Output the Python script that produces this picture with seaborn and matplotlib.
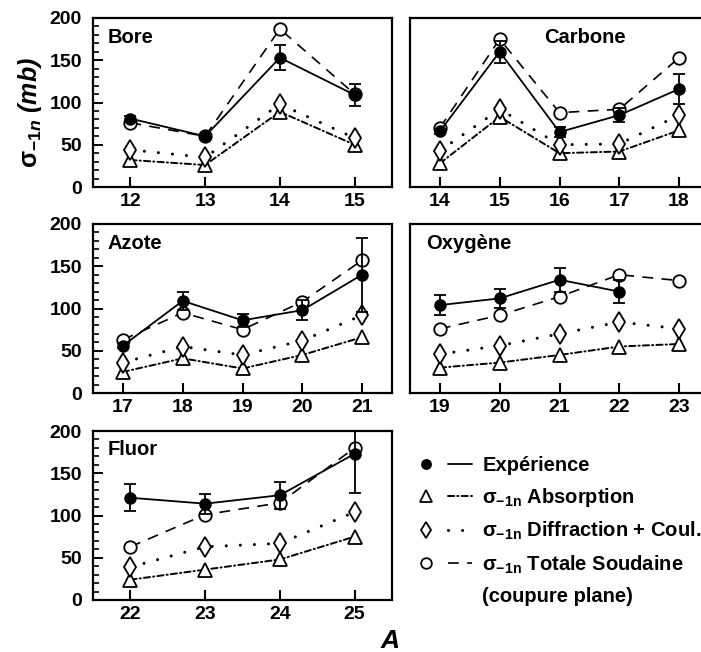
import matplotlib
matplotlib.use("Agg")
import matplotlib.pyplot as plt
from matplotlib.lines import Line2D
from matplotlib.legend_handler import HandlerTuple
from matplotlib.ticker import MultipleLocator
import seaborn as sns

# --- data (sigma_-1n in mb) ---
names = ["Bore", "Carbone", "Azote", "Oxygène", "Fluor"]

A_bore = [12, 13, 14, 15]
exp_bore = [81, 60, 153, 109]
err_bore = [3, 3, 15, 13]
tot_bore = [76, 60, 187, 110]
diff_bore = [44, 35, 98, 58]
abs_bore = [32, 26, 89, 50]

A_carb = [14, 15, 16, 17, 18]
exp_carb = [66, 160, 65, 85, 116]
err_carb = [3, 13, 6, 8, 18]
tot_carb = [70, 175, 88, 92, 153]
diff_carb = [43, 92, 50, 51, 85]
abs_carb = [28, 83, 40, 42, 67]

A_azote = [17, 18, 19, 20, 21]
exp_azote = [56, 109, 86, 98, 140]
err_azote = [3, 11, 8, 12, 44]
tot_azote = [63, 95, 75, 108, 157]
diff_azote = [36, 55, 45, 62, 92]
abs_azote = [25, 41, 29, 45, 66]

A_oxy = [19, 20, 21, 22, 23]
A_oxy_exp = [19, 20, 21, 22]
exp_oxy = [104, 112, 134, 120]
err_oxy = [12, 11, 14, 14]
tot_oxy = [76, 92, 114, 140, 133]
diff_oxy = [46, 56, 70, 84, 76]
abs_oxy = [30, 36, 45, 55, 58]

A_fluor = [22, 23, 24, 25]
exp_fluor = [121, 114, 124, 173]
err_fluor = [16, 12, 16, 46]
tot_fluor = [63, 101, 115, 180]
diff_fluor = [39, 63, 67, 104]
abs_fluor = [24, 36, 48, 75]

panels = [
    (A_bore, A_bore, exp_bore, err_bore, tot_bore, diff_bore, abs_bore),
    (A_carb, A_carb, exp_carb, err_carb, tot_carb, diff_carb, abs_carb),
    (A_azote, A_azote, exp_azote, err_azote, tot_azote, diff_azote, abs_azote),
    (A_oxy, A_oxy_exp, exp_oxy, err_oxy, tot_oxy, diff_oxy, abs_oxy),
    (A_fluor, A_fluor, exp_fluor, err_fluor, tot_fluor, diff_fluor, abs_fluor),
]

sns.set_style("ticks", rc={
    "axes.axisbelow": False,
    "axes.edgecolor": "black",
    "xtick.color": "black",
    "ytick.color": "black",
    "text.color": "black",
    "xtick.direction": "in",
    "ytick.direction": "in",
    "xtick.major.size": 7,
    "xtick.major.width": 1.5,
    "ytick.major.size": 7,
    "ytick.major.width": 1.4,
    "ytick.minor.size": 4.5,
    "ytick.minor.width": 1.2,
    "xtick.top": False,
    "ytick.right": False,
})
plt.rcParams["font.family"] = ["Liberation Sans", "DejaVu Sans"]
plt.rcParams["font.weight"] = "bold"
plt.rcParams["mathtext.fontset"] = "custom"
plt.rcParams["mathtext.rm"] = "Liberation Sans"
plt.rcParams["mathtext.it"] = "Liberation Sans:italic"
plt.rcParams["mathtext.bf"] = "Liberation Sans:bold"

# line styles
st_exp = dict(color="black", lw=1.3, ls="-", marker="o", ms=8, mfc="black", mec="black", mew=1)
st_abs = dict(color="black", lw=1.4, ls=(0, (3.2, 1.6, 0.6, 1.6)), marker="^", ms=9.5,
              mfc="white", mec="black", mew=1.3, dash_capstyle="round")
st_diff = dict(color="black", lw=2.2, ls=(0, (0.01, 4.6)), marker="d", ms=10,
               mfc="white", mec="black", mew=1.3, dash_capstyle="round")
st_tot = dict(color="black", lw=1.2, ls=(0, (6.5, 5)), marker="o", ms=9,
              mfc="white", mec="black", mew=1.3)

fig = plt.figure(figsize=(7.01, 6.52), dpi=100)
W, H = 701, 652
lefts = [93, 410]
tops = [18, 224, 431]
aw, ah = 299, 169

positions = [(0, 0), (1, 0), (0, 1), (1, 1), (0, 2)]
axes = []
for i, (c, r) in enumerate(positions):
    ax = fig.add_axes([lefts[c] / W, 1 - (tops[r] + ah) / H, aw / W, ah / H])
    axes.append(ax)
    A, A_e, ex, er, tot, dif, ab = panels[i]
    sns.lineplot(x=A, y=ab, ax=ax, zorder=2, **st_abs)
    sns.lineplot(x=A, y=dif, ax=ax, zorder=2, **st_diff)
    sns.lineplot(x=A, y=tot, ax=ax, zorder=3, **st_tot)
    sns.lineplot(x=A_e, y=ex, ax=ax, zorder=4, **st_exp)
    ax.errorbar(A_e, ex, yerr=er, fmt="none", ecolor="black", elinewidth=1.3,
                capsize=4.5, capthick=1.3, zorder=4)

    ax.set_xlim(A[0] - 0.5, A[-1] + 0.5)
    ax.set_ylim(0, 200)
    ax.set_xticks(A)
    ax.tick_params(axis="x", which="major", direction="in", length=7, width=1.5,
                   pad=4, labelsize=14, bottom=True, top=False, color="black")
    if c == 0:
        ax.yaxis.set_major_locator(MultipleLocator(50))
        ax.yaxis.set_minor_locator(MultipleLocator(10))
        ax.tick_params(axis="y", which="major", direction="in", length=7, width=1.4,
                       pad=8, labelsize=14, left=True, color="black")
        ax.tick_params(axis="y", which="minor", direction="in", length=4.5, width=1.2,
                       left=True, color="black")
    else:
        ax.tick_params(axis="y", which="both", left=False, labelleft=False)
    for s in ax.spines.values():
        s.set_linewidth(1.6)
        s.set_color("black")
        s.set_visible(True)
    ax.set_xlabel("")
    ax.set_ylabel("")

# panel names
title_pos = [(0.05, 0.885, "left"), (0.585, 0.885, "center"), (0.05, 0.885, "left"),
             (0.054, 0.885, "left"), (0.05, 0.89, "left")]
for ax, name, (tx, ty, ha) in zip(axes, names, title_pos):
    ax.text(tx, ty, name, transform=ax.transAxes, fontsize=14.5,
            fontweight="bold", va="center", ha=ha)

fig.text(30 / W, 1 - 112 / H, r"$\mathrm{\sigma}_{\mathit{-1n}}$ (mb)", fontsize=18,
         fontweight="bold", fontstyle="italic", rotation=90, ha="center", va="center")
fig.text(390 / W, 1 - 641 / H, "A", fontsize=19, fontweight="bold",
         fontstyle="italic", ha="center", va="center")


# legend
def marker_only(st):
    d = {k: v for k, v in st.items() if k not in ("ls", "lw", "dash_capstyle")}
    d["ms"] = d["ms"] * 0.85
    return Line2D([], [], ls="none", **d)


def line_only(st):
    d = {k: v for k, v in st.items() if k in ("color", "ls", "lw", "dash_capstyle")}
    return Line2D([], [], **d)


handles = [(marker_only(s), line_only(s)) for s in (st_exp, st_abs, st_diff, st_tot)]
handles.append(Line2D([], [], ls="none"))
sig = r"$\mathrm{\sigma}_{\mathrm{-1n}}$ "
labels = ["Expérience", sig + "Absorption", sig + "Diffraction + Coul.",
          sig + "Totale Soudaine", "(coupure plane)"]
fig.legend(handles, labels, handler_map={tuple: HandlerTuple(ndivide=None, pad=0.5)},
           loc="upper left", bbox_to_anchor=(414 / W, 1 - 456 / H), frameon=False,
           fontsize=14.5, handlelength=2.9, handletextpad=0.5, labelspacing=0.55,
           borderaxespad=0, borderpad=0)

fig.savefig("out.png", dpi=100)
